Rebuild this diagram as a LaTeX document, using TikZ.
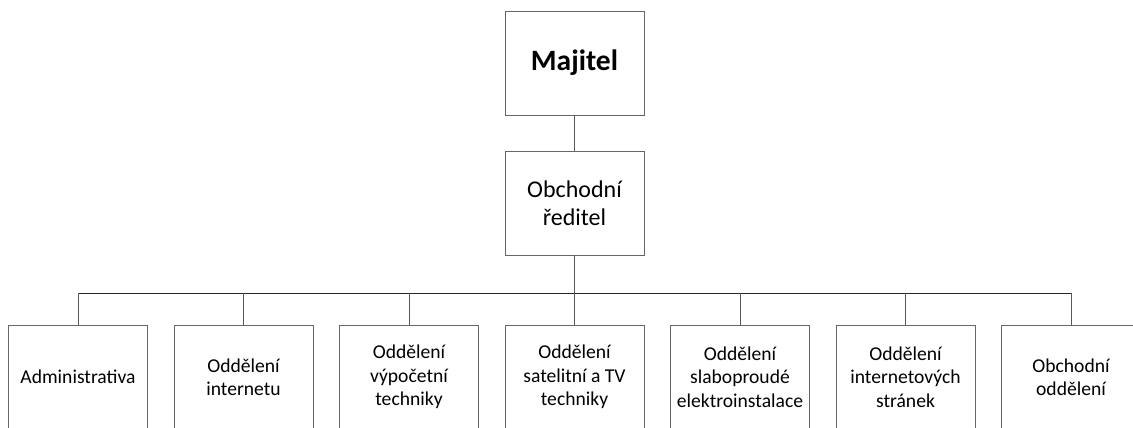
\documentclass[tikz,border=0pt]{standalone}
\usepackage{fontspec}
\setmainfont{Carlito}
\begin{document}
\begin{tikzpicture}[x=1pt,y=-1pt,
  orgbox/.style={draw=black!60, line width=0.9pt, fill=white, inner sep=0pt,
    minimum width=139pt, minimum height=104pt, align=center},
  topbox/.style={orgbox, font=\fontsize{29.5}{33}\selectfont\bfseries},
  midbox/.style={orgbox, font=\fontsize{24}{27.7}\selectfont},
  leafbox/.style={orgbox, font=\fontsize{19.6}{23.3}\selectfont},
  link/.style={draw=black!65, line width=0.9pt},
  bus/.style={draw=black!85, line width=0.9pt}]
\useasboundingbox (0,0) rectangle (1133,428);
\clip (0,0) rectangle (1133,428);

% Management chain
\node[topbox] (owner) at (574.5,63) {Majitel};
\node[midbox] (cdir) at (574.5,203) {Obchodní\\ředitel};

% Departments
\node[leafbox] (d1) at (78,377)    {Administrativa};
\node[leafbox] (d2) at (243.5,377) {Oddělení\\internetu};
\node[leafbox] (d3) at (409,377)   {Oddělení\\výpočetní\\techniky};
\node[leafbox] (d4) at (574.5,377) {Oddělení\\satelitní a TV\\techniky};
\node[leafbox] (d5) at (740,377)   {Oddělení\\slaboproudé\\elektroinstalace};
\node[leafbox] (d6) at (905.5,377) {Oddělení\\internetových\\stránek};
\node[leafbox] (d7) at (1071,377)  {Obchodní\\oddělení};

% Connectors
\coordinate (busy) at (0,293);
\draw[link] (owner.south) -- (cdir.north);
\draw[link] (cdir.south) -- (cdir.south |- busy);
\draw[bus] (d1.north |- busy) -- (d7.north |- busy);
\foreach \d in {d1,d2,d3,d4,d5,d6,d7}
  \draw[link] (\d.north |- busy) -- (\d.north);
\end{tikzpicture}
\end{document}
